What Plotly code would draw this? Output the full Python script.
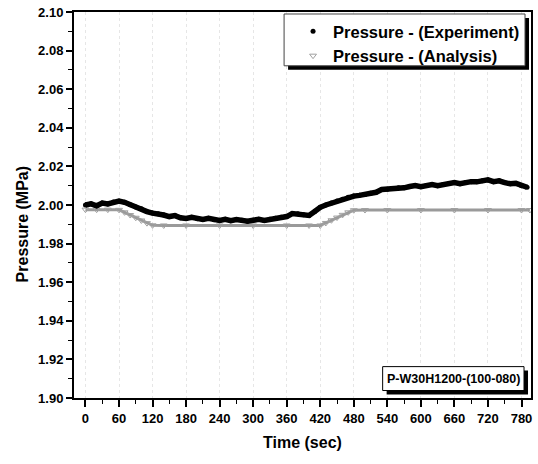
import plotly.graph_objects as go

# ---- data ----
time_exp = [0, 10, 20, 30, 40, 50, 60, 70, 80, 90, 100, 110, 120, 130, 140, 150, 160, 170, 180, 190,
            200, 210, 220, 230, 240, 250, 260, 270, 280, 290, 300, 310, 320, 330, 340, 350, 360, 370, 380, 390,
            400, 410, 420, 430, 440, 450, 460, 470, 480, 490, 500, 510, 520, 530, 540, 550, 560, 570, 580, 590,
            600, 610, 620, 630, 640, 650, 660, 670, 680, 690, 700, 710, 720, 730, 740, 750, 760, 770, 780, 790]
p_exp = [2.0000, 2.0006, 1.9996, 2.0010, 2.0005, 2.0015, 2.0020, 2.0014, 2.0001, 1.9990,
         1.9980, 1.9966, 1.9958, 1.9955, 1.9948, 1.9940, 1.9945, 1.9934, 1.9930, 1.9936,
         1.9929, 1.9925, 1.9931, 1.9924, 1.9920, 1.9926, 1.9919, 1.9925, 1.9921, 1.9916,
         1.9921, 1.9926, 1.9920, 1.9926, 1.9931, 1.9936, 1.9940, 1.9956, 1.9955, 1.9950,
         1.9946, 1.9966, 1.9988, 2.0000, 2.0010, 2.0021, 2.0030, 2.0040, 2.0046, 2.0050,
         2.0055, 2.0061, 2.0066, 2.0080, 2.0081, 2.0086, 2.0090, 2.0089, 2.0096, 2.0101,
         2.0095, 2.0101, 2.0106, 2.0100, 2.0106, 2.0111, 2.0116, 2.0110, 2.0116, 2.0121,
         2.0120, 2.0126, 2.0130, 2.0121, 2.0125, 2.0116, 2.0110, 2.0112, 2.0100, 2.0092]

time_ana = [0, 20, 40, 60, 70, 80, 90, 100, 110, 120, 140, 180, 240, 300, 360, 400, 420,
            430, 440, 450, 460, 470, 480, 500, 540, 600, 660, 720, 780, 795]
p_ana = [1.9976, 1.9976, 1.9976, 1.9975, 1.9962, 1.9948, 1.9934, 1.9920, 1.9906, 1.9895, 1.9894,
         1.9894, 1.9894, 1.9894, 1.9894, 1.9894, 1.9894, 1.9907, 1.9921, 1.9935, 1.9949, 1.9962,
         1.9973, 1.9974, 1.9974, 1.9974, 1.9974, 1.9974, 1.9974, 1.9974]

x_ticks = [0, 60, 120, 180, 240, 300, 360, 420, 480, 540, 600, 660, 720, 780]
y_ticks = [1.90, 1.92, 1.94, 1.96, 1.98, 2.00, 2.02, 2.04, 2.06, 2.08, 2.10]
legend_names = ["Pressure - (Experiment)", "Pressure - (Analysis)"]
case_label = "P-W30H1200-(100-080)"

# ---- layout geometry (pixels) ----
W, H = 538, 464
L, R, T, B = 74, 533, 11, 398.5


def px(x):
    return (x - L) / (R - L)


def py(y):
    return (B - y) / (B - T)


FONT = "Liberation Sans, Arial, sans-serif"

fig = go.Figure()

# analysis line + markers
fig.add_trace(go.Scatter(x=time_ana, y=p_ana, mode="lines", line=dict(color="#9a9a9a", width=3),
                         showlegend=False, hoverinfo="skip"))
fig.add_trace(go.Scatter(x=time_ana, y=p_ana, mode="markers", name="<b>" + legend_names[1] + "</b>",
                         marker=dict(symbol="triangle-down-open", size=6, color="#a0a0a0",
                                     line=dict(width=1, color="#a0a0a0"))))
# experiment line + markers
fig.add_trace(go.Scatter(x=time_exp, y=p_exp, mode="lines", line=dict(color="black", width=5.5),
                         showlegend=False, hoverinfo="skip"))
fig.add_trace(go.Scatter(x=time_exp, y=p_exp, mode="markers", name="<b>" + legend_names[0] + "</b>",
                         marker=dict(symbol="circle", size=5, color="black")))

shapes = [
    # legend shadow + box
    dict(type="rect", xref="paper", yref="paper", x0=px(289), x1=px(531), y0=py(17), y1=py(69),
         fillcolor="black", line=dict(width=0), layer="above"),
    dict(type="rect", xref="paper", yref="paper", x0=px(285), x1=px(527), y0=py(13), y1=py(65),
         fillcolor="white", line=dict(color="#444", width=1), layer="above"),
    # case label shadow + box
    dict(type="rect", xref="paper", yref="paper", x0=px(388), x1=px(530), y0=py(371), y1=py(395),
         fillcolor="black", line=dict(width=0), layer="above"),
    dict(type="rect", xref="paper", yref="paper", x0=px(384), x1=px(526), y0=py(367), y1=py(391),
         fillcolor="white", line=dict(color="black", width=1), layer="above"),
]

annotations = [
    dict(text="<b>" + case_label + "</b>", xref="paper", yref="paper", x=px(455), y=py(379.5),
         xanchor="center", yanchor="middle", showarrow=False, font=dict(family=FONT, size=12.5, color="black")),
    dict(text="<b>Time (sec)</b>", xref="paper", yref="paper", x=0.5, y=py(443),
         xanchor="center", yanchor="middle", showarrow=False, font=dict(family=FONT, size=16, color="black")),
    dict(text="<b>Pressure (MPa)</b>", xref="paper", yref="paper", x=px(22), y=py(224),
         xanchor="center", yanchor="middle", textangle=-90, showarrow=False,
         font=dict(family=FONT, size=16, color="black")),
]

fig.update_layout(
    width=W, height=H,
    margin=dict(l=L, r=W - R, t=T, b=H - B),
    paper_bgcolor="white", plot_bgcolor="white",
    font=dict(family=FONT, color="black"),
    showlegend=True,
    legend=dict(x=px(294), y=py(13), xanchor="left", yanchor="top", bgcolor="rgba(0,0,0,0)",
                borderwidth=0, font=dict(family=FONT, size=16.5, color="black"),
                traceorder="reversed", tracegroupgap=0),
    shapes=shapes,
    annotations=annotations,
)

fig.update_xaxes(range=[-20.5, 797], tickmode="array", tickvals=x_ticks,
                 ticktext=[f"<b>{v}</b>" for v in x_ticks],
                 ticks="outside", ticklen=7, tickwidth=2, tickcolor="black",
                 minor=dict(dtick=30, tick0=0, ticks="outside", ticklen=4, tickwidth=1, tickcolor="black",
                            showgrid=False),
                 showline=True, linewidth=2, linecolor="black", mirror=True,
                 showgrid=True, gridcolor="#e6e6e6", griddash="dot", gridwidth=1,
                 zeroline=False, tickfont=dict(family=FONT, size=13, color="black"))
fig.update_yaxes(range=[1.90, 2.10], tickmode="array", tickvals=y_ticks,
                 ticktext=[f"<b>{v:.2f}</b>" for v in y_ticks],
                 ticks="outside", ticklen=6, tickwidth=2, tickcolor="black",
                 minor=dict(dtick=0.01, tick0=1.90, ticks="outside", ticklen=4, tickwidth=1, tickcolor="black",
                            showgrid=False),
                 showline=True, linewidth=2, linecolor="black", mirror=True,
                 showgrid=False, zeroline=False,
                 tickfont=dict(family=FONT, size=13, color="black"))

fig.write_html("out.html")
